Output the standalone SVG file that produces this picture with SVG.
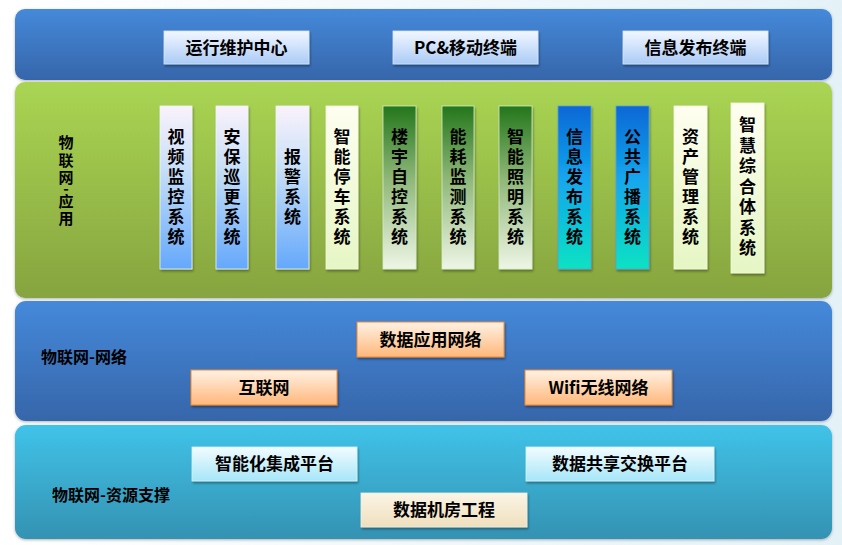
<svg xmlns="http://www.w3.org/2000/svg" width="842" height="545" viewBox="0 0 842 545">
<defs>
<linearGradient id="bg" x1="0" y1="0" x2="1" y2="0"><stop offset="0" stop-color="#ffffff"/><stop offset="1" stop-color="#e4f2f8"/></linearGradient>
<linearGradient id="gBlue" x1="0" y1="0" x2="0" y2="1"><stop offset="0" stop-color="#4589da"/><stop offset="1" stop-color="#3666aa"/></linearGradient>
<linearGradient id="gGreen" x1="0" y1="0" x2="0" y2="1"><stop offset="0" stop-color="#aad553"/><stop offset="1" stop-color="#86a43f"/></linearGradient>
<linearGradient id="gCyan" x1="0" y1="0" x2="0" y2="1"><stop offset="0" stop-color="#40c3e9"/><stop offset="1" stop-color="#3492b2"/></linearGradient>
<linearGradient id="bTop" x1="0" y1="0" x2="0" y2="1"><stop offset="0" stop-color="#f2f7ff"/><stop offset="1" stop-color="#abcbf6"/></linearGradient>
<linearGradient id="bPeach" x1="0" y1="0" x2="0" y2="1"><stop offset="0" stop-color="#fff2e4"/><stop offset="1" stop-color="#ffb77a"/></linearGradient>
<linearGradient id="bCyanBox" x1="0" y1="0" x2="0" y2="1"><stop offset="0" stop-color="#f2fcff"/><stop offset="1" stop-color="#a6e6f8"/></linearGradient>
<linearGradient id="bBeige" x1="0" y1="0" x2="0" y2="1"><stop offset="0" stop-color="#fbf5e6"/><stop offset="1" stop-color="#efdfbd"/></linearGradient>
<linearGradient id="vBlue" x1="0" y1="0" x2="0" y2="1"><stop offset="0" stop-color="#fbf2fb"/><stop offset="0.4" stop-color="#c5def8"/><stop offset="1" stop-color="#64a8fb"/></linearGradient>
<linearGradient id="vYel" x1="0" y1="0" x2="0" y2="1"><stop offset="0" stop-color="#fefef0"/><stop offset="1" stop-color="#e6f6c4"/></linearGradient>
<linearGradient id="vGreen" x1="0" y1="0" x2="0" y2="1"><stop offset="0" stop-color="#23761b"/><stop offset="0.45" stop-color="#8fb879"/><stop offset="1" stop-color="#eef6e6"/></linearGradient>
<linearGradient id="vCyan" x1="0" y1="0" x2="0" y2="1"><stop offset="0" stop-color="#0767d6"/><stop offset="0.45" stop-color="#14a6ee"/><stop offset="1" stop-color="#0ae2c2"/></linearGradient>
<filter id="sh" x="-20%" y="-20%" width="140%" height="140%"><feDropShadow dx="1" dy="2" stdDeviation="1.2" flood-color="#000" flood-opacity="0.35"/></filter>
<filter id="psh" x="-5%" y="-10%" width="110%" height="120%"><feDropShadow dx="0" dy="1" stdDeviation="1.5" flood-color="#000" flood-opacity="0.3"/></filter>
</defs>
<style>
text{font-family:"Noto Sans CJK SC","Noto Sans",sans-serif;font-weight:bold;fill:#000;}
.bx{font-size:17px;text-anchor:middle;}
.lb{font-size:16px;text-anchor:middle;}
.vt{font-size:17px;text-anchor:middle;}
.vl{font-size:15px;text-anchor:middle;}
.box{filter:url(#sh);}
.pnl{filter:url(#psh);}
</style>
<rect width="842" height="545" fill="url(#bg)"/>

<g id="layer-terminal">
<rect class="pnl" x="15" y="9" width="817" height="71" rx="10" fill="url(#gBlue)"/>
<g id="n-ops"><rect class="box" x="164" y="31" width="145" height="33" fill="url(#bTop)" stroke="#d8e6f8" stroke-width="0.8"/><text class="bx" x="236.5" y="53.5">运行维护中心</text></g>
<g id="n-pc"><rect class="box" x="393" y="31" width="145" height="33" fill="url(#bTop)" stroke="#d8e6f8" stroke-width="0.8"/><text class="bx" x="465.5" y="53.5">PC&amp;移动终端</text></g>
<g id="n-info"><rect class="box" x="623" y="31" width="145" height="33" fill="url(#bTop)" stroke="#d8e6f8" stroke-width="0.8"/><text class="bx" x="695.5" y="53.5">信息发布终端</text></g>
</g>

<g id="layer-app">
<rect class="pnl" x="15" y="82" width="817" height="216" rx="10" fill="url(#gGreen)"/>
<text class="vl" x="66" y="148"><tspan x="66">物</tspan><tspan x="66" dy="18">联</tspan><tspan x="66" dy="17">网</tspan><tspan x="66" dy="11">-</tspan><tspan x="66" dy="13">应</tspan><tspan x="66" dy="17">用</tspan></text>
<g id="n-v1"><rect class="box" x="160" y="106" width="32" height="163" fill="url(#vBlue)" stroke="#eef4ff" stroke-width="0.8"/><text class="vt" x="176" y="143"><tspan x="176">视</tspan><tspan x="176" dy="20">频</tspan><tspan x="176" dy="20">监</tspan><tspan x="176" dy="20">控</tspan><tspan x="176" dy="20">系</tspan><tspan x="176" dy="20">统</tspan></text></g>
<g id="n-v2"><rect class="box" x="216" y="106" width="32" height="163" fill="url(#vBlue)" stroke="#eef4ff" stroke-width="0.8"/><text class="vt" x="232" y="143"><tspan x="232">安</tspan><tspan x="232" dy="20">保</tspan><tspan x="232" dy="20">巡</tspan><tspan x="232" dy="20">更</tspan><tspan x="232" dy="20">系</tspan><tspan x="232" dy="20">统</tspan></text></g>
<g id="n-v3"><rect class="box" x="276" y="106" width="33" height="163" fill="url(#vBlue)" stroke="#eef4ff" stroke-width="0.8"/><text class="vt" x="292.5" y="163"><tspan x="292.5">报</tspan><tspan x="292.5" dy="20">警</tspan><tspan x="292.5" dy="20">系</tspan><tspan x="292.5" dy="20">统</tspan></text></g>
<g id="n-v4"><rect class="box" x="326" y="106" width="32" height="163" fill="url(#vYel)" stroke="#f4f8e0" stroke-width="0.8"/><text class="vt" x="342" y="143"><tspan x="342">智</tspan><tspan x="342" dy="20">能</tspan><tspan x="342" dy="20">停</tspan><tspan x="342" dy="20">车</tspan><tspan x="342" dy="20">系</tspan><tspan x="342" dy="20">统</tspan></text></g>
<g id="n-v5"><rect class="box" x="383" y="106" width="33" height="163" fill="url(#vGreen)" stroke="#d8eacc" stroke-width="0.8"/><text class="vt" x="399.5" y="143"><tspan x="399.5">楼</tspan><tspan x="399.5" dy="20">宇</tspan><tspan x="399.5" dy="20">自</tspan><tspan x="399.5" dy="20">控</tspan><tspan x="399.5" dy="20">系</tspan><tspan x="399.5" dy="20">统</tspan></text></g>
<g id="n-v6"><rect class="box" x="442" y="106" width="32" height="163" fill="url(#vGreen)" stroke="#d8eacc" stroke-width="0.8"/><text class="vt" x="458" y="143"><tspan x="458">能</tspan><tspan x="458" dy="20">耗</tspan><tspan x="458" dy="20">监</tspan><tspan x="458" dy="20">测</tspan><tspan x="458" dy="20">系</tspan><tspan x="458" dy="20">统</tspan></text></g>
<g id="n-v7"><rect class="box" x="499" y="106" width="33" height="163" fill="url(#vGreen)" stroke="#d8eacc" stroke-width="0.8"/><text class="vt" x="515.5" y="143"><tspan x="515.5">智</tspan><tspan x="515.5" dy="20">能</tspan><tspan x="515.5" dy="20">照</tspan><tspan x="515.5" dy="20">明</tspan><tspan x="515.5" dy="20">系</tspan><tspan x="515.5" dy="20">统</tspan></text></g>
<g id="n-v8"><rect class="box" x="558" y="106" width="33" height="163" fill="url(#vCyan)" stroke="#5aa0e0" stroke-width="0.8"/><text class="vt" x="574.5" y="143"><tspan x="574.5">信</tspan><tspan x="574.5" dy="20">息</tspan><tspan x="574.5" dy="20">发</tspan><tspan x="574.5" dy="20">布</tspan><tspan x="574.5" dy="20">系</tspan><tspan x="574.5" dy="20">统</tspan></text></g>
<g id="n-v9"><rect class="box" x="616" y="106" width="33" height="163" fill="url(#vCyan)" stroke="#5aa0e0" stroke-width="0.8"/><text class="vt" x="632.5" y="143"><tspan x="632.5">公</tspan><tspan x="632.5" dy="20">共</tspan><tspan x="632.5" dy="20">广</tspan><tspan x="632.5" dy="20">播</tspan><tspan x="632.5" dy="20">系</tspan><tspan x="632.5" dy="20">统</tspan></text></g>
<g id="n-v10"><rect class="box" x="674" y="106" width="33" height="163" fill="url(#vYel)" stroke="#f4f8e0" stroke-width="0.8"/><text class="vt" x="690.5" y="143"><tspan x="690.5">资</tspan><tspan x="690.5" dy="20">产</tspan><tspan x="690.5" dy="20">管</tspan><tspan x="690.5" dy="20">理</tspan><tspan x="690.5" dy="20">系</tspan><tspan x="690.5" dy="20">统</tspan></text></g>
<g id="n-v11"><rect class="box" x="731" y="103" width="33" height="170" fill="url(#vYel)" stroke="#f4f8e0" stroke-width="0.8"/><text class="vt" x="747.5" y="131"><tspan x="747.5">智</tspan><tspan x="747.5" dy="20.5">慧</tspan><tspan x="747.5" dy="20.5">综</tspan><tspan x="747.5" dy="20.5">合</tspan><tspan x="747.5" dy="20.5">体</tspan><tspan x="747.5" dy="20.5">系</tspan><tspan x="747.5" dy="20.5">统</tspan></text></g>
</g>

<g id="layer-net">
<rect class="pnl" x="15" y="301" width="817" height="120" rx="11" fill="url(#gBlue)"/>
<text class="lb" x="84" y="363">物联网-网络</text>
<g id="n-dataapp"><rect class="box" x="357" y="322" width="147" height="35" fill="url(#bPeach)" stroke="#f08a30" stroke-width="1"/><text class="bx" x="430.5" y="345.5">数据应用网络</text></g>
<g id="n-internet"><rect class="box" x="191" y="370" width="146" height="35" fill="url(#bPeach)" stroke="#f08a30" stroke-width="1"/><text class="bx" x="264" y="393.5">互联网</text></g>
<g id="n-wifi"><rect class="box" x="525" y="370" width="147" height="35" fill="url(#bPeach)" stroke="#f08a30" stroke-width="1"/><text class="bx" x="598.5" y="393.5">Wifi无线网络</text></g>
</g>

<g id="layer-res">
<rect class="pnl" x="15" y="425" width="817" height="114" rx="11" fill="url(#gCyan)"/>
<text class="lb" x="111" y="501">物联网-资源支撑</text>
<g id="n-integ"><rect class="box" x="192" y="447" width="165" height="34" fill="url(#bCyanBox)" stroke="#d8f2fa" stroke-width="0.8"/><text class="bx" x="274.5" y="470">智能化集成平台</text></g>
<g id="n-share"><rect class="box" x="526" y="447" width="188" height="34" fill="url(#bCyanBox)" stroke="#d8f2fa" stroke-width="0.8"/><text class="bx" x="620" y="470">数据共享交换平台</text></g>
<g id="n-room"><rect class="box" x="361" y="493" width="166" height="34" fill="url(#bBeige)" stroke="#f6eedc" stroke-width="0.8"/><text class="bx" x="444" y="516">数据机房工程</text></g>
</g>

<g id="connectors"></g>
</svg>
